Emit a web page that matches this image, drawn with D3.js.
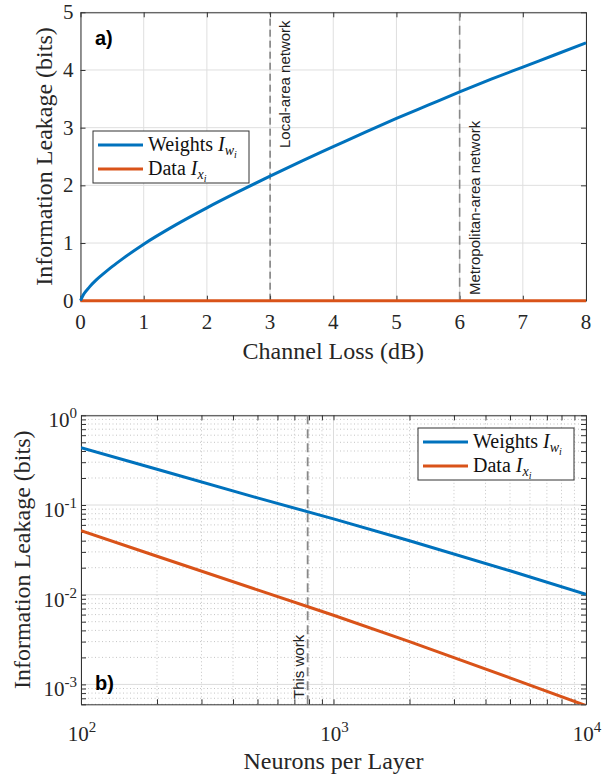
<!DOCTYPE html>
<html>
<head>
<meta charset="utf-8">
<script src="https://cdn.jsdelivr.net/npm/d3@7"></script>
<style>
  body { margin: 0; background: #fff; }
</style>
</head>
<body>
<svg id="chart" width="605" height="774"></svg>
<script>
// ---- panel a) leakage vs channel loss ----
var lossDb       = [0, 0.05, 0.14, 0.25, 0.35, 0.5, 0.67, 1, 1.5, 2, 2.5, 3, 3.5, 4, 4.5, 5, 5.5, 6, 6.5, 7, 7.5, 8];
var leakWeightsA = [0, 0.11, 0.235, 0.36, 0.455, 0.59, 0.73, 0.98, 1.31, 1.61, 1.89, 2.16, 2.42, 2.67, 2.92, 3.16, 3.39, 3.62, 3.84, 4.05, 4.26, 4.47];
var leakDataA    = [0, 0, 0, 0, 0, 0, 0, 0, 0, 0, 0, 0, 0, 0, 0, 0, 0, 0, 0, 0, 0, 0];
var xTicksA = [0, 1, 2, 3, 4, 5, 6, 7, 8];
var yTicksA = [0, 1, 2, 3, 4, 5];
var lossMarks = [3, 6];
var lossMarkLabels = ["Local-area network", "Metropolitan-area network"];

// ---- panel b) leakage vs neurons per layer ----
var neurons      = [100, 200, 500, 1000, 2000, 5000, 10000];
var leakWeightsB = [0.436, 0.25, 0.12, 0.07, 0.04, 0.0185, 0.0101];
var leakDataB    = [0.0518, 0.0268, 0.0113, 0.0059, 0.0030, 0.00118, 0.00058];
var xExpB = [2, 3, 4];
var yExpB = [-3, -2, -1, 0];
var thisWork = 790;
var thisWorkLabel = "This work";

var seriesNames = ["Weights", "Data"];
var seriesSubs = ["w", "x"];

var svg = d3.select("#chart");
var serif = "'Liberation Serif', 'Times New Roman', serif";
var sans = "'Liberation Sans', Arial, sans-serif";
var blue = "#0072BD", orange = "#D95319", axisCol = "#333";
var colors = [blue, orange];

function drawLegend(x0, y0) {
  var g = svg.append("g").attr("transform", "translate(" + x0 + "," + y0 + ")");
  g.append("rect").attr("width", 156).attr("height", 52)
    .attr("fill", "#fff").attr("stroke", "#333").attr("stroke-width", 1);
  seriesNames.forEach(function(name, i) {
    var yy = 14 + i * 24;
    g.append("line").attr("x1", 5).attr("x2", 50).attr("y1", yy).attr("y2", yy)
      .attr("stroke", colors[i]).attr("stroke-width", 3);
    var t = g.append("text").attr("x", 55).attr("y", yy + 6)
      .style("font-family", serif).style("font-size", "20px").attr("fill", "#111");
    t.append("tspan").text(name + " ");
    t.append("tspan").style("font-style", "italic").text("I");
    t.append("tspan").style("font-style", "italic").style("font-size", "14px").attr("dy", 4).text(seriesSubs[i]);
    t.append("tspan").style("font-style", "italic").style("font-size", "10px").attr("dy", 3).text("i");
  });
}

// =================== panel a ===================
var xa = d3.scaleLinear().domain([0, 8]).range([80.5, 586]);
var ya = d3.scaleLinear().domain([0, 5]).range([300.7, 12.3]);
var ga = svg.append("g");

// grid
ga.selectAll(".gx").data(xTicksA).enter().append("line")
  .attr("x1", xa).attr("x2", xa).attr("y1", ya(0)).attr("y2", ya(5))
  .attr("stroke", "#dfdfdf").attr("stroke-width", 1);
ga.selectAll(".gy").data(yTicksA).enter().append("line")
  .attr("y1", ya).attr("y2", ya).attr("x1", xa(0)).attr("x2", xa(8))
  .attr("stroke", "#dfdfdf").attr("stroke-width", 1);

// box + inward ticks
ga.append("g").attr("transform", "translate(0," + ya(0) + ")")
  .call(d3.axisBottom(xa).tickValues(xTicksA).tickSize(-5).tickSizeOuter(0).tickFormat(""));
ga.append("g").attr("transform", "translate(0," + ya(5) + ")")
  .call(d3.axisTop(xa).tickValues(xTicksA).tickSize(-5).tickSizeOuter(0).tickFormat(""));
ga.append("g").attr("transform", "translate(" + xa(0) + ",0)")
  .call(d3.axisLeft(ya).tickValues(yTicksA).tickSize(-5).tickSizeOuter(0).tickFormat(""));
ga.append("g").attr("transform", "translate(" + xa(8) + ",0)")
  .call(d3.axisRight(ya).tickValues(yTicksA).tickSize(-5).tickSizeOuter(0).tickFormat(""));
ga.selectAll(".domain, .tick line").attr("stroke", axisCol);

// tick labels
ga.selectAll(".xl").data(xTicksA).enter().append("text")
  .attr("x", xa).attr("y", ya(0) + 28).attr("text-anchor", "middle")
  .style("font-family", serif).style("font-size", "21px").attr("fill", "#262626")
  .text(function(d) { return d; });
ga.selectAll(".yl").data(yTicksA).enter().append("text")
  .attr("x", xa(0) - 7).attr("y", function(d) { return ya(d) + 7; }).attr("text-anchor", "end")
  .style("font-family", serif).style("font-size", "21px").attr("fill", "#262626")
  .text(function(d) { return d; });

// network reference lines
lossMarks.forEach(function(m, i) {
  ga.append("line").attr("x1", xa(m)).attr("x2", xa(m)).attr("y1", ya(0)).attr("y2", ya(5))
    .attr("stroke", i == 0 ? "#444" : "#888").attr("stroke-width", i == 0 ? 1 : 1.6)
    .attr("stroke-dasharray", i == 0 ? "7,4" : "9,5");
  ga.append("text")
    .attr("transform", "translate(" + (xa(m) + 20) + "," + (i == 0 ? 148 : 295) + ") rotate(-90)")
    .style("font-family", sans).style("font-size", "15px").attr("fill", "#222")
    .text(lossMarkLabels[i]);
});

// curves
var lineA = d3.line().x(function(d) { return xa(d[0]); }).y(function(d) { return ya(d[1]); })
  .curve(d3.curveMonotoneX);
ga.append("path").attr("d", lineA(d3.zip(lossDb, leakDataA)))
  .attr("fill", "none").attr("stroke", orange).attr("stroke-width", 3);
ga.append("path").attr("d", lineA(d3.zip(lossDb, leakWeightsA)))
  .attr("fill", "none").attr("stroke", blue).attr("stroke-width", 3);

// labels
ga.append("text").attr("x", (xa(0) + xa(8)) / 2).attr("y", 359).attr("text-anchor", "middle")
  .style("font-family", serif).style("font-size", "24px").attr("fill", "#262626")
  .text("Channel Loss (dB)");
ga.append("text").attr("transform", "translate(52," + (ya(0) + ya(5)) / 2 + ") rotate(-90)")
  .attr("text-anchor", "middle")
  .style("font-family", serif).style("font-size", "24px").attr("fill", "#262626")
  .text("Information Leakage (bits)");
ga.append("text").attr("x", 95).attr("y", 45)
  .style("font-family", sans).style("font-weight", "bold").style("font-size", "20px")
  .text("a)");

drawLegend(93, 131);

// =================== panel b ===================
var xb = d3.scaleLog().domain([100, 10000]).range([81, 586]);
var yb = d3.scaleLog().domain([6e-4, 1]).range([704.3, 415.3]);
var gb = svg.append("g");

var xMinorB = [], yMinorB = [];
[100, 1000].forEach(function(b) { for (var k = 2; k <= 9; k++) xMinorB.push(b * k); });
[1e-4, 1e-3, 1e-2, 1e-1].forEach(function(b) {
  for (var k = 2; k <= 9; k++) if (b * k >= 6e-4 - 1e-9) yMinorB.push(b * k);
});
var xMajorB = xExpB.map(function(e) { return Math.pow(10, e); });
var yMajorB = yExpB.map(function(e) { return Math.pow(10, e); });

// minor grid (dotted)
gb.selectAll(".mgx").data(xMinorB).enter().append("line")
  .attr("x1", xb).attr("x2", xb).attr("y1", yb(6e-4)).attr("y2", yb(1))
  .attr("stroke", "#c4c4c4").attr("stroke-width", 1).attr("stroke-dasharray", "1,2.5");
gb.selectAll(".mgy").data(yMinorB).enter().append("line")
  .attr("y1", yb).attr("y2", yb).attr("x1", xb(100)).attr("x2", xb(10000))
  .attr("stroke", "#c4c4c4").attr("stroke-width", 1).attr("stroke-dasharray", "1,2.5");
// major grid
gb.selectAll(".gx").data(xMajorB).enter().append("line")
  .attr("x1", xb).attr("x2", xb).attr("y1", yb(6e-4)).attr("y2", yb(1))
  .attr("stroke", "#dcdcdc").attr("stroke-width", 1);
gb.selectAll(".gy").data(yMajorB).enter().append("line")
  .attr("y1", yb).attr("y2", yb).attr("x1", xb(100)).attr("x2", xb(10000))
  .attr("stroke", "#dcdcdc").attr("stroke-width", 1);

// box + inward ticks (major and minor)
var xAllB = xMajorB.concat(xMinorB), yAllB = yMajorB.concat(yMinorB);
gb.append("g").attr("transform", "translate(0," + yb(6e-4) + ")")
  .call(d3.axisBottom(xb).tickValues(xAllB).tickSize(-5).tickSizeOuter(0).tickFormat(""));
gb.append("g").attr("transform", "translate(0," + yb(1) + ")")
  .call(d3.axisTop(xb).tickValues(xAllB).tickSize(-5).tickSizeOuter(0).tickFormat(""));
gb.append("g").attr("transform", "translate(" + xb(100) + ",0)")
  .call(d3.axisLeft(yb).tickValues(yAllB).tickSize(-5).tickSizeOuter(0).tickFormat(""));
gb.append("g").attr("transform", "translate(" + xb(10000) + ",0)")
  .call(d3.axisRight(yb).tickValues(yAllB).tickSize(-5).tickSizeOuter(0).tickFormat(""));
gb.selectAll(".domain, .tick line").attr("stroke", axisCol);

// tick labels 10^n
xExpB.forEach(function(e) {
  var t = gb.append("text").attr("x", xb(Math.pow(10, e)) + 1).attr("y", 741)
    .attr("text-anchor", "middle").style("font-family", serif).style("font-size", "21px").attr("fill", "#262626");
  t.append("tspan").text("10");
  t.append("tspan").attr("dy", -9).style("font-size", "15px").text(e);
});
yExpB.forEach(function(e) {
  var t = gb.append("text").attr("x", 77).attr("y", yb(Math.pow(10, e)) + 12)
    .attr("text-anchor", "end").style("font-family", serif).style("font-size", "21px").attr("fill", "#262626");
  t.append("tspan").text("10");
  t.append("tspan").attr("dy", -9).style("font-size", "15px").text(e);
});

// this work marker
gb.append("line").attr("x1", xb(thisWork)).attr("x2", xb(thisWork)).attr("y1", yb(6e-4)).attr("y2", yb(1))
  .attr("stroke", "#888").attr("stroke-width", 1.8).attr("stroke-dasharray", "9,5");
gb.append("text").attr("transform", "translate(" + (xb(thisWork) - 4) + ",699) rotate(-90)")
  .style("font-family", sans).style("font-size", "15px").attr("fill", "#222")
  .text(thisWorkLabel);

// curves
svg.append("clipPath").attr("id", "clipb").append("rect")
  .attr("x", xb(100)).attr("y", yb(1)).attr("width", xb(10000) - xb(100)).attr("height", yb(6e-4) - yb(1));
var lineB = d3.line().x(function(d) { return xb(d[0]); }).y(function(d) { return yb(d[1]); });
gb.append("path").attr("d", lineB(d3.zip(neurons, leakDataB))).attr("clip-path", "url(#clipb)")
  .attr("fill", "none").attr("stroke", orange).attr("stroke-width", 3);
gb.append("path").attr("d", lineB(d3.zip(neurons, leakWeightsB))).attr("clip-path", "url(#clipb)")
  .attr("fill", "none").attr("stroke", blue).attr("stroke-width", 3);

// labels
gb.append("text").attr("x", (xb(100) + xb(10000)) / 2).attr("y", 769).attr("text-anchor", "middle")
  .style("font-family", serif).style("font-size", "24px").attr("fill", "#262626")
  .text("Neurons per Layer");
gb.append("text").attr("transform", "translate(30," + (yb(6e-4) + yb(1)) / 2 + ") rotate(-90)")
  .attr("text-anchor", "middle")
  .style("font-family", serif).style("font-size", "24px").attr("fill", "#262626")
  .text("Information Leakage (bits)");
gb.append("text").attr("x", 95).attr("y", 690)
  .style("font-family", sans).style("font-weight", "bold").style("font-size", "20px")
  .text("b)");

drawLegend(418, 428);
</script>
</body>
</html>
